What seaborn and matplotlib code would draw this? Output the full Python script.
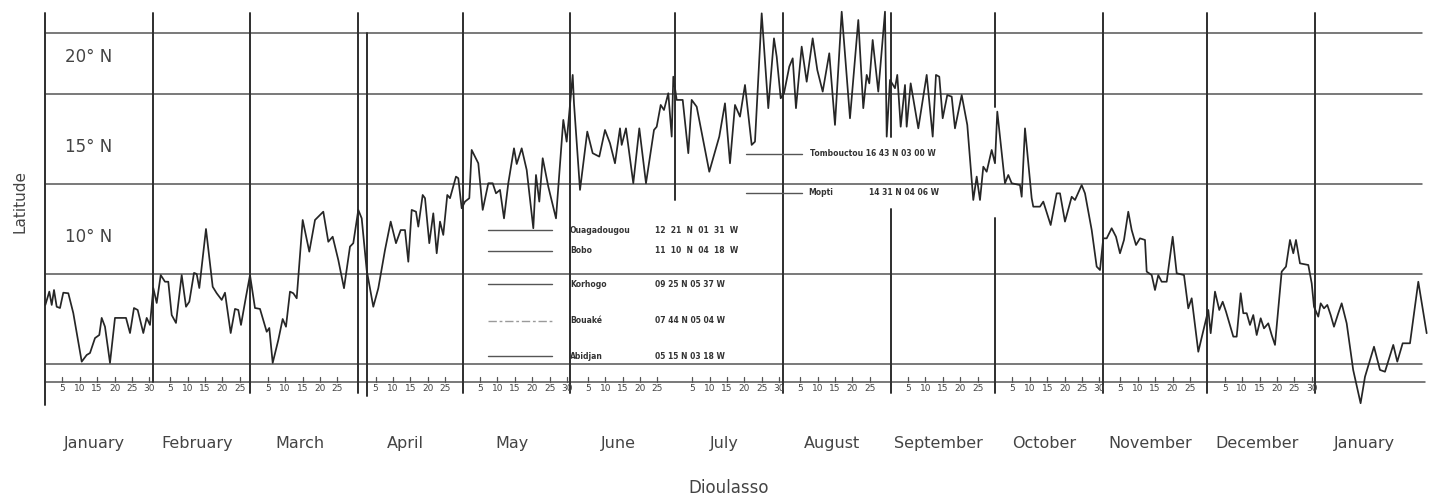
import numpy as np
import pandas as pd
import matplotlib
matplotlib.use("Agg")
import matplotlib.pyplot as plt
import seaborn as sns

# ---- data -------------------------------------------------------------
# daily position (days from 1 January) and latitude (degrees N) of the trace
curve_day = [
    0.1, 1.24, 1.93, 2.59, 3.36, 4.31, 5.26, 6.70, 8.13, 10.55, 11.98, 12.93, 14.37, 15.60, 16.29,
    17.24, 18.68, 20.11, 21.55, 23.28, 24.43, 25.57, 26.64, 28.25, 29.22, 30.17, 31.12, 32.10, 33.25,
    34.48, 35.43, 36.41, 37.64, 39.28, 40.52, 41.47, 42.82, 43.59, 44.34, 46.26, 48.19, 49.34, 50.78,
    51.72, 53.36, 54.60, 55.55, 56.32, 57.76, 58.91, 60.34, 61.78, 63.71, 64.45, 65.43, 67.04, 68.30,
    69.25, 70.40, 71.35, 72.33, 74.05, 75.95, 77.59, 78.53, 79.97, 81.41, 82.67, 84.28, 85.92, 87.64,
    88.59, 90.03, 91.01, 92.44, 94.34, 95.78, 97.70, 99.34, 100.86, 102.21, 103.45, 104.40, 105.37,
    106.61, 107.27, 108.53, 109.20, 110.43, 111.58, 112.56, 113.51, 114.45, 115.60, 116.38, 118.10,
    118.76, 119.74, 120.69, 121.93, 122.61, 124.51, 125.78, 127.39, 128.65, 129.60, 130.75, 131.90,
    133.13, 134.77, 135.55, 136.98, 138.42, 140.32, 141.09, 142.04, 143.02, 144.63, 146.84, 148.94,
    149.91, 151.64, 152.01, 153.74, 155.83, 157.38, 159.28, 160.92, 162.36, 163.79, 165.23, 165.72,
    166.95, 169.05, 170.78, 172.70, 175.00, 175.78, 176.93, 177.87, 179.11, 180.09, 180.55, 181.52,
    183.25, 184.86, 185.83, 187.27, 190.89, 193.76, 195.40, 196.84, 198.28, 199.71, 201.15, 203.07,
    204.02, 205.95, 207.84, 209.48, 210.26, 211.41, 212.36, 213.88, 214.86, 215.80, 217.44, 218.88,
    220.60, 221.93, 223.48, 225.37, 227.01, 228.94, 231.32, 233.71, 235.14, 236.12, 236.87, 237.84,
    239.45, 241.38, 241.87, 242.82, 244.25, 244.91, 245.89, 247.13, 247.61, 248.76, 250.95, 253.36,
    255.09, 256.03, 256.98, 257.96, 259.28, 260.55, 261.49, 263.42, 265.03, 266.75, 267.73, 268.68,
    269.63, 270.60, 272.04, 272.99, 273.65, 275.86, 276.81, 277.79, 280.17, 280.66, 281.61, 283.53,
    283.99, 285.92, 286.87, 288.99, 290.72, 291.67, 293.10, 295.03, 295.98, 297.90, 298.85, 300.78,
    302.21, 303.16, 304.11, 305.09, 306.52, 307.76, 308.91, 310.06, 311.29, 312.27, 313.51, 314.66,
    316.09, 316.58, 318.02, 318.97, 319.91, 320.89, 322.33, 324.05, 325.20, 327.30, 328.53, 329.51,
    331.41, 334.28, 334.97, 336.21, 337.44, 338.42, 339.37, 341.47, 342.44, 343.59, 344.34, 345.32,
    346.26, 347.21, 348.19, 349.34, 350.29, 351.52, 352.50, 353.45, 355.37, 356.61, 357.76, 358.71,
    359.48, 360.63, 363.02, 364.00, 364.66, 365.89, 366.58, 367.53, 368.48, 369.45, 370.40, 371.64,
    372.61, 374.05, 375.92, 378.05, 379.31, 381.90, 383.62, 385.06, 387.44, 388.59, 390.14, 392.24,
    394.63, 397.04,
]
curve_lat = [
    5.78, 6.52, 5.78, 6.61, 5.68, 5.61, 6.46, 6.43, 5.33, 2.63, 3.00, 3.11, 3.94, 4.11, 5.06,
    4.57, 2.56, 5.06, 5.06, 5.06, 4.22, 5.61, 5.50, 4.22, 5.06, 4.67, 6.72, 5.89, 7.44,
    7.07, 7.07, 5.22, 4.78, 7.44, 5.68, 5.96, 7.56, 7.50, 6.72, 10.00, 6.79, 6.43, 6.06,
    6.46, 4.22, 5.56, 5.50, 4.67, 6.24, 7.44, 5.61, 5.56, 4.29, 4.50, 2.56, 3.83, 5.00,
    4.57, 6.52, 6.43, 6.15, 10.50, 8.74, 10.50, 10.68, 10.96, 9.29, 9.57, 8.28, 6.71, 9.02,
    9.21, 11.06, 10.59, 7.72, 5.68, 6.71, 8.83, 10.41, 9.21, 9.94, 9.94, 8.18, 11.06,
    10.96, 10.13, 11.89, 11.71, 9.21, 10.87, 8.65, 10.41, 9.67, 11.89, 11.71, 12.91,
    12.82, 11.15, 11.52, 11.71, 14.39, 13.65, 11.06, 12.54, 12.54, 11.98, 12.17, 10.59,
    12.54, 14.48, 13.61, 14.48, 13.28, 10.04, 13.00, 11.52, 13.93, 12.35, 10.59, 16.06,
    14.85, 18.56, 16.98, 12.17, 15.41, 14.21, 14.02, 15.50, 14.76, 13.65, 15.59, 14.67,
    15.59, 12.54, 15.59, 12.54, 15.50, 15.68, 16.89, 16.61, 17.54, 15.13, 18.46, 17.17,
    17.17, 14.21, 17.17, 16.79, 13.18, 15.13, 16.98, 13.65, 16.89, 16.24, 18.00, 14.67,
    14.85, 21.98, 16.71, 20.59, 19.57, 17.26, 17.54, 19.02, 19.48, 16.71, 20.13, 18.18,
    20.59, 18.83, 17.63, 19.76, 15.78, 22.07, 16.15, 21.61, 16.71, 18.56, 18.09, 20.50,
    17.63, 22.07, 15.13, 18.28, 17.82, 18.56, 15.68, 18.00, 15.68, 18.09, 15.59, 18.56,
    15.13, 18.56, 18.46, 16.15, 17.44, 17.35, 15.59, 17.44, 15.78, 11.61, 12.91, 11.61,
    13.46, 13.18, 14.39, 13.65, 16.52, 12.54, 13.00, 12.54, 12.44, 11.79, 15.59, 11.71,
    11.24, 11.24, 11.52, 10.22, 11.98, 11.98, 10.41, 11.79, 11.61, 12.44, 11.98, 9.94,
    7.91, 7.72, 9.48, 9.48, 10.04, 9.57, 8.65, 9.39, 10.96, 9.94, 9.11, 9.48,
    9.39, 7.63, 7.44, 6.61, 7.44, 7.07, 7.07, 9.57, 7.54, 7.44, 5.59, 6.15,
    3.18, 5.50, 4.21, 6.52, 5.50, 5.96, 5.41, 4.02, 4.02, 6.43, 5.32, 5.32,
    4.67, 5.22, 4.11, 5.04, 4.48, 4.76, 4.11, 3.56, 7.63, 7.91, 9.39, 8.65,
    9.39, 8.09, 8.00, 6.98, 5.68, 5.13, 5.87, 5.59, 5.78, 5.22, 4.57, 5.32,
    5.87, 4.76, 2.17, 0.32, 1.79, 3.46, 2.17, 2.07, 3.56, 2.63, 3.65, 3.65,
    7.07, 4.21,
]

month_names = ["January", "February", "March", "April", "May", "June", "July",
               "August", "September", "October", "November", "December", "January"]
month_days = [31, 28, 31, 30, 31, 30, 31, 31, 30, 31, 30, 31, 31]
# day-of-month marks printed under each month
month_marks = [
    [5, 10, 15, 20, 25, 30], [5, 10, 15, 20, 25], [5, 10, 15, 20, 25], [5, 10, 15, 20, 25],
    [5, 10, 15, 20, 25, 30], [5, 10, 15, 20, 25], [5, 10, 15, 20, 25, 30], [5, 10, 15, 20, 25],
    [5, 10, 15, 20, 25], [5, 10, 15, 20, 25, 30], [5, 10, 15, 20, 25], [5, 10, 15, 20, 25, 30], [],
]

lat_labels = [10, 15, 20]
grid_lats = [2.5, 7.5, 12.5, 17.5, 20.9]
base_lat = 1.5

south_stations = ["Ouagadougou", "Bobo", "Korhogo", "Bouaké", "Abidjan"]
south_coords = ["12  21  N  01  31  W", "11  10  N  04  18  W", "09 25 N 05 37 W",
                "07 44 N 05 04 W", "05 15 N 03 18 W"]
north_stations = ["Tombouctou", "Mopti"]
north_coords = ["16 43 N 03 00 W", "14 31 N 04 06 W"]

# ---- figure -------------------------------------------------------------
sns.set_theme(style="white")
plt.rcParams["font.family"] = ["DejaVu Sans"]

INK = "#262626"
GRID = "#555555"
TXT = "#444444"

fig = plt.figure(figsize=(14.35, 4.99), dpi=100)
ax = fig.add_axes([0, 0, 1, 1])
ax.set_xlim(-12.93, 399.43)
ax.set_ylim(-5.0, 22.72)
ax.axis("off")

edges = np.concatenate([[0], np.cumsum(month_days)])
x_end = edges[-1] - 0.3

# horizontal rules
for g in grid_lats:
    ax.plot([0, x_end], [g, g], color=GRID, lw=1.1, zorder=1)
ax.plot([0, x_end + 0.8], [base_lat, base_lat], color=GRID, lw=1.1, zorder=1)

# vertical month rules (some drawn short or interrupted)
top, bottom = 22.0, 0.9
segments = {i: [(top, bottom)] for i in range(len(month_days))}
segments[0] = [(top, 0.2)]
segments[1] = [(top, base_lat)]
segments[6] = [(top, 11.6)]
segments[8] = [(top, 15.1), (11.1, bottom)]
segments[9] = [(top, 16.8), (10.6, bottom)]
for i, segs in segments.items():
    for y0, y1 in segs:
        ax.plot([edges[i], edges[i]], [y0, y1], color="#2e2e2e", lw=1.4, zorder=1)
ax.plot([92.5, 92.5], [20.9, 0.7], color="#2e2e2e", lw=1.4, zorder=1)

# day-of-month marks
for start, marks in zip(edges[:-1], month_marks):
    for m in marks:
        x = start + m
        ax.plot([x, x], [base_lat, base_lat + 0.25], color=GRID, lw=0.9, zorder=1)
        ax.text(x, base_lat - 0.35, str(m), ha="center", va="center",
                fontsize=6.5, color=TXT)

# month names
for start, n, name in zip(edges[:-1], month_days, month_names):
    ax.text(start + n / 2 - 1.3, -1.9, name, ha="center", va="center",
            fontsize=11.5, color=TXT)

# latitude labels
for lab in lat_labels:
    ax.text(5.75, lab - 0.45, f"{lab}° N", ha="left", va="center",
            fontsize=12, color=TXT)

ax.text(-7.2, 11.5, "Latitude", rotation=90, ha="center", va="center",
        fontsize=11, color=TXT)
ax.text(196.5, -4.4, "Dioulasso", ha="center", va="center", fontsize=12, color=TXT)

# station key
key_rows = [9.94, 8.78, 6.94, 4.89, 2.94]
for row, name, coord in zip(key_rows, south_stations, south_coords):
    style = dict(color="#9a9a9a", lw=1.0, ls=(0, (6, 2, 2, 2))) if name == "Bouaké" \
        else dict(color="#555555", lw=1.0)
    ax.plot([127.3, 145.7], [row, row], **style, zorder=2)
    ax.text(150.9, row, name, ha="left", va="center", fontsize=5.5,
            fontweight="bold", color="#333333")
    ax.text(175.3, row, coord, ha="left", va="center", fontsize=5.5,
            fontweight="bold", color="#333333")

north_rows = [14.17, 12.0]
ax.plot([201.4, 217.5], [north_rows[0], north_rows[0]], color="#555555", lw=1.0)
ax.text(219.8, north_rows[0], f"{north_stations[0]} {north_coords[0]}", ha="left",
        va="center", fontsize=5.5, fontweight="bold", color="#333333")
ax.plot([201.4, 217.5], [north_rows[1], north_rows[1]], color="#555555", lw=1.0)
ax.text(219.2, north_rows[1], north_stations[1], ha="left", va="center",
        fontsize=5.5, fontweight="bold", color="#333333")
ax.text(236.8, north_rows[1], north_coords[1], ha="left", va="center",
        fontsize=5.5, fontweight="bold", color="#333333")

# the daily trace
trace = pd.DataFrame({"day": curve_day, "lat": curve_lat})
sns.lineplot(data=trace, x="day", y="lat", ax=ax, sort=False, estimator=None,
             color=INK, lw=1.25, zorder=3)
ax.axis("off")

fig.savefig("out.png", dpi=100, facecolor="white")
